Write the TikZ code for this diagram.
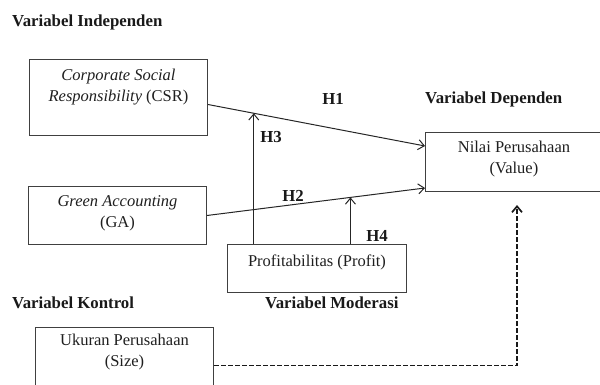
\documentclass[tikz,border=0pt]{standalone}
\usepackage{fontspec}
\setmainfont{Liberation Serif}
\usetikzlibrary{arrows.meta,positioning,calc}

\begin{document}
\begin{tikzpicture}[x=1pt,y=-1pt,
    font=\fontsize{16.5}{21}\selectfont,
    >={Straight Barb[length=6pt,width=10pt]},
    box/.style={draw=black!75,line width=1pt,anchor=north west,inner sep=0pt},
    boxtext/.style={align=center,text=black!88,inner sep=0pt},
    hyp/.style={font=\fontsize{16.8}{21}\selectfont\bfseries,text=black!90,inner sep=0pt},
    link/.style={->,line width=1pt,black!85},
    dashlink/.style={->,line width=1.7pt,dash pattern=on 4.5pt off 2.5pt,black!90}]
\useasboundingbox (0,0) rectangle (600,385);

% boxes
\node[box,minimum width=178pt,minimum height=76pt] (csr) at (29,59) {};
\node[box,minimum width=177pt,minimum height=59pt] (val) at (425,132) {};
\node[box,minimum width=178pt,minimum height=58pt] (ga) at (28,186) {};
\node[box,minimum width=179pt,minimum height=48pt] (prof) at (227,244) {};
\node[box,minimum width=178pt,minimum height=70pt] (size) at (35,327) {};

\node[boxtext,below=10pt of csr.north] (csrtxt) {\textit{Corporate Social}\\\textit{Responsibility} (CSR)};
\node[boxtext,below=9pt of val.north] (valtxt) {Nilai Perusahaan\\(Value)};
\node[boxtext,below=9pt of ga.north] (gatxt) {\textit{Green Accounting}\\(GA)};
\node[boxtext,below=11pt of prof.north] (proftxt) {Profitabilitas (Profit)};
\node[boxtext,below=7pt of size.north] (sizetxt) {Ukuran Perusahaan\\(Size)};

% headings
\node[hyp,anchor=west] (indep) at (12,22) {Variabel Independen};
\node[hyp,anchor=west] (dep) at (425,99) {Variabel Dependen};
\node[hyp,anchor=west] (kontrol) at (12,303) {Variabel Kontrol};
\node[hyp,anchor=west] (moder) at (265,303) {Variabel Moderasi};

% hypotheses
\node[hyp] (h1) at (333,99) {H1};
\node[hyp] (h2) at (293,196) {H2};
\node[hyp] (h3) at (271,137) {H3};
\node[hyp] (h4) at (377,236) {H4};

% connectors
\coordinate (csrout) at ([yshift=-7pt]csr.east);
\coordinate (valin1) at ([yshift=16pt]val.west);
\coordinate (gaout) at (ga.east);
\coordinate (valin2) at ([yshift=4pt]val.south west);
\coordinate (h3end) at ($(csrout)!0.211!(valin1)$);
\coordinate (h4end) at ($(gaout)!0.658!(valin2)$);
\coordinate (valbelow) at (517,205);

\draw[link] (csrout) -- (valin1);
\draw[link] (gaout) -- (valin2);
\draw[link] (h3end |- prof.north) -- (h3end);
\draw[link] (h4end |- prof.north) -- (h4end);
\draw[dashlink] ([yshift=-3pt]size.east) -| (valbelow);
\end{tikzpicture}
\end{document}
